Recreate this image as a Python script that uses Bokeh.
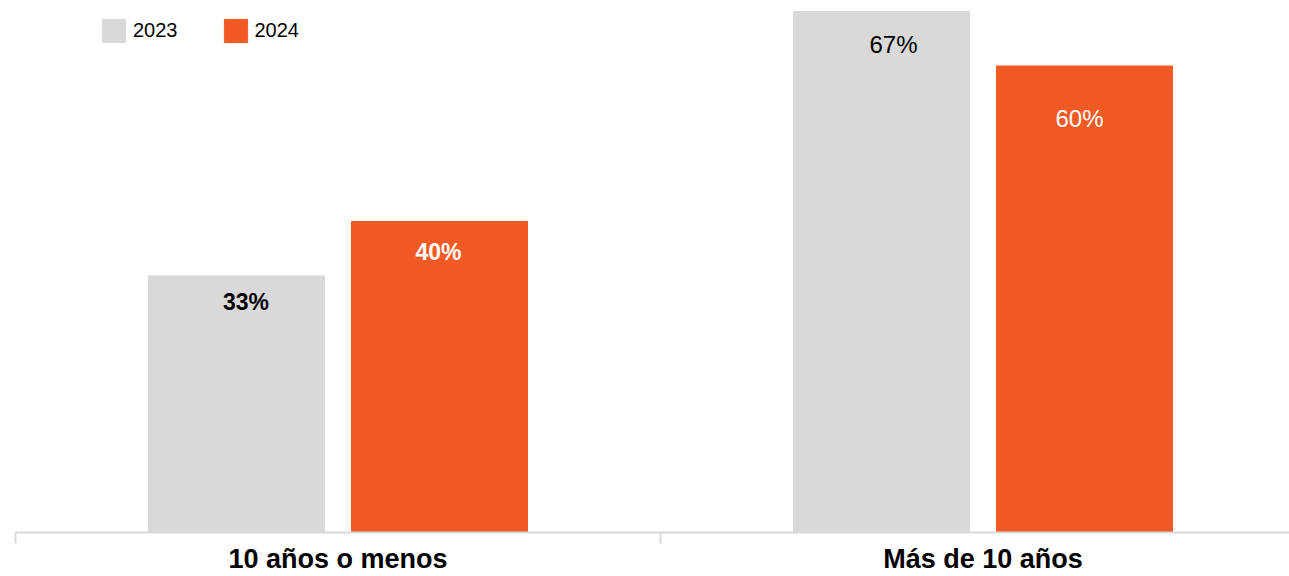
from bokeh.plotting import figure
from bokeh.models import FixedTicker, Legend, LegendItem, ColumnDataSource
from bokeh.core.properties import value
from bokeh.embed import file_html
from bokeh.resources import INLINE

# ---- data ----
categories = ["10 años o menos", "Más de 10 años"]
series_names = ["2023", "2024"]
values_2023 = [33, 67]
values_2024 = [40, 60]
labels_2023 = ["33%", "67%"]
labels_2024 = ["40%", "60%"]

# ---- style ----
GRAY = "#d9d9d9"
ORANGE = "#f15a24"
FONT = "Liberation Sans"
FIG_W, FIG_H = 1289, 576
LEFT = 15
PX_PER_UNIT_X = 645.0
PX_PER_PCT = 7.775
FRAME_W = FIG_W - LEFT
FRAME_H = 532
BAR_W = 176 / PX_PER_UNIT_X
DODGE = 101.5 / PX_PER_UNIT_X

# per-label fine placement (pixels)
lab_dx_2023 = [9.5, 12]
lab_dx_2024 = [-1, -5]
lab_dy_2023 = [26, 33]
lab_dy_2024 = [30, 52]
lab_style = ["bold", "normal"]
lab_size = ["23px", "24px"]

xc = [i + 0.5 for i in range(len(categories))]

p = figure(width=FIG_W, height=FIG_H, output_backend="svg", toolbar_location=None,
           tools="", x_range=(0, FRAME_W / PX_PER_UNIT_X),
           y_range=(0, FRAME_H / PX_PER_PCT),
           min_border_left=LEFT, min_border_right=0, min_border_top=0,
           min_border_bottom=FIG_H - FRAME_H, y_axis_location=None)
p.outline_line_color = None
p.xgrid.visible = False
p.ygrid.visible = False
p.background_fill_color = "white"
p.border_fill_color = "white"

src23 = ColumnDataSource(dict(x=[v - DODGE for v in xc], top=values_2023,
                              label=labels_2023, dx=lab_dx_2023, dy=lab_dy_2023,
                              fs=lab_style, sz=lab_size))
src24 = ColumnDataSource(dict(x=[v + DODGE for v in xc], top=values_2024,
                              label=labels_2024, dx=lab_dx_2024, dy=lab_dy_2024,
                              fs=lab_style, sz=lab_size))

r23 = p.vbar(x="x", top="top", bottom=0, width=BAR_W, source=src23,
             fill_color=GRAY, line_color=GRAY)
r24 = p.vbar(x="x", top="top", bottom=0, width=BAR_W, source=src24,
             fill_color=ORANGE, line_color=ORANGE)

p.text(x="x", y="top", text="label", x_offset="dx", y_offset="dy", source=src23,
       text_align="center", text_baseline="alphabetic", text_font=value(FONT),
       text_font_size="sz", text_font_style="fs", text_color="black")
p.text(x="x", y="top", text="label", x_offset="dx", y_offset="dy", source=src24,
       text_align="center", text_baseline="alphabetic", text_font=value(FONT),
       text_font_size="sz", text_font_style="fs", text_color="white")

ax = p.xaxis[0]
ax.ticker = FixedTicker(ticks=xc, minor_ticks=[0, 1, 2])
ax.major_label_overrides = {xc[i]: categories[i] for i in range(len(categories))}
ax.axis_line_color = GRAY
ax.axis_line_width = 2
ax.major_tick_line_color = None
ax.major_tick_out = 0
ax.major_tick_in = 0
ax.minor_tick_line_color = GRAY
ax.minor_tick_line_width = 2
ax.minor_tick_out = 11
ax.minor_tick_in = 0
ax.major_label_standoff = 0
ax.major_label_text_font = FONT
ax.major_label_text_font_size = "27px"
ax.major_label_text_font_style = "bold"
ax.major_label_text_color = "black"

legend = Legend(items=[LegendItem(label=series_names[0], renderers=[r23]),
                       LegendItem(label=series_names[1], renderers=[r24])],
                orientation="horizontal", location=(84, FRAME_H - 16 - 29),
                glyph_width=29, glyph_height=29, label_height=29,
                label_standoff=5, spacing=43, padding=0, margin=0,
                border_line_color=None, background_fill_alpha=0,
                label_text_font=FONT, label_text_font_size="20px",
                label_text_color="black")
p.add_layout(legend)

open("out.html", "w").write(file_html(p, INLINE))
